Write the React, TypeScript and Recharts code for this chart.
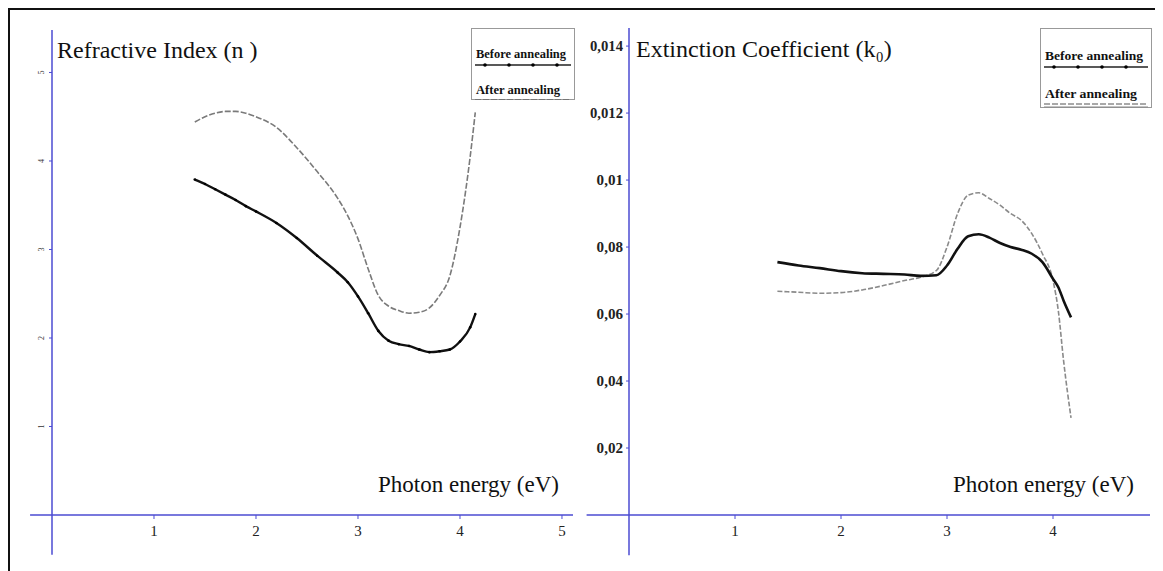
import { LineChart, Line, XAxis, YAxis, ReferenceLine } from 'recharts';

const serif = '"Liberation Serif", "Times New Roman", serif';
const axisBlue = '#4b4bd2';

// Refractive index n vs photon energy (eV)
const nEnergy = [1.4, 1.5, 1.6, 1.7, 1.8, 1.9, 2.0, 2.2, 2.4, 2.6, 2.8, 2.9, 3.0, 3.1, 3.2, 3.3, 3.4, 3.5, 3.6, 3.7, 3.8, 3.9, 4.0, 4.1, 4.15];
const nBefore = [3.79, 3.74, 3.68, 3.62, 3.56, 3.49, 3.43, 3.3, 3.13, 2.93, 2.74, 2.63, 2.47, 2.28, 2.08, 1.97, 1.93, 1.91, 1.87, 1.84, 1.85, 1.87, 1.96, 2.12, 2.27];
const nAfter = [4.44, 4.5, 4.54, 4.56, 4.56, 4.54, 4.5, 4.38, 4.15, 3.88, 3.58, 3.38, 3.12, 2.78, 2.48, 2.36, 2.31, 2.28, 2.29, 2.34, 2.48, 2.7, 3.25, 4.05, 4.55];

// Extinction coefficient k vs photon energy (eV)
const kEnergy = [1.4, 1.6, 1.8, 2.0, 2.2, 2.4, 2.6, 2.75, 2.9, 3.0, 3.1, 3.2, 3.3, 3.4, 3.5, 3.6, 3.7, 3.8, 3.9, 4.0, 4.05, 4.1, 4.17];
const kBefore = [0.00755, 0.00745, 0.00737, 0.00728, 0.00722, 0.0072, 0.00718, 0.00714, 0.00716, 0.00745, 0.00795, 0.00832, 0.00838, 0.00828, 0.00812, 0.008, 0.00792, 0.0078, 0.00755, 0.00705, 0.0068, 0.0064, 0.0059];
const kAfter = [0.00668, 0.00665, 0.00662, 0.00664, 0.00672, 0.00685, 0.007, 0.0071, 0.0073, 0.008, 0.009, 0.00955, 0.00962, 0.00945, 0.00925, 0.009, 0.0088, 0.0084, 0.0078, 0.007, 0.0061, 0.0046, 0.0029];

const nTicksX = [1, 2, 3, 4, 5];
const nTicksY = [1, 2, 3, 4, 5];
const kTicksX = [1, 2, 3, 4];
const kTicksY = [0.002, 0.004, 0.006, 0.008, 0.01, 0.012, 0.014];
const kTickLabels = ['0,02', '0,04', '0,06', '0,08', '0,01', '0,012', '0,014'];

const nData = nEnergy.map((e, i) => ({ e, before: nBefore[i], after: nAfter[i] }));
const kData = kEnergy.map((e, i) => ({ e, before: kBefore[i], after: kAfter[i] }));

const RotTick = (props: any) => {
  const { x, y, payload } = props;
  return (
    <text x={x} y={y} transform={`rotate(-90 ${x} ${y})`} textAnchor="middle" dominantBaseline="central"
      fontSize={8} fontFamily={serif} fill="#333">{payload.value}</text>
  );
};

const KTick = (props: any) => {
  const { x, y, payload } = props;
  const label = kTickLabels[kTicksY.indexOf(payload.value)] ?? '';
  return (
    <text x={x} y={y} dy={5} textAnchor="end" fontSize={15} fontWeight={700} fontFamily={serif} fill="#222"
      textLength={label.length * 6.6} lengthAdjust="spacingAndGlyphs">{label}</text>
  );
};

const axisLine = { stroke: axisBlue, strokeWidth: 1.5 };
const xTick = { fontSize: 15, fill: '#222', fontFamily: serif };

const LegendBox = ({ left, top, w, h, r1, r2 }: any) => (
  <svg style={{ position: 'absolute', left, top }} width={w} height={h}>
    <rect x={0.5} y={0.5} width={w - 1} height={h - 1} fill="#fff" stroke="#999" />
    <text x={5} y={r1} fontSize={13} fontWeight={700} fontFamily={serif} fill="#111" textLength={w - 14} lengthAdjust="spacingAndGlyphs">Before annealing</text>
    <line x1={4} x2={w - 4} y1={r1 + 7} y2={r1 + 7} stroke="#222" strokeWidth={1.5} />
    {[0, 1, 2, 3].map((i) => (
      <circle key={i} cx={14 + i * 24} cy={r1 + 7} r={1.8} fill="#000" />
    ))}
    <text x={5} y={r2} fontSize={13} fontWeight={700} fontFamily={serif} fill="#111" textLength={w - 20} lengthAdjust="spacingAndGlyphs">After annealing</text>
    <line x1={4} x2={w - 4} y1={r2 + 6} y2={r2 + 6} stroke="#555" strokeWidth={1.2} strokeDasharray="6 2" />
    <line x1={4} x2={w - 4} y1={r2 + 9} y2={r2 + 9} stroke="#888" strokeWidth={1} />
  </svg>
);

const label = (text: string, left: number, top: number) => (
  <div style={{ position: 'absolute', left, top, fontFamily: serif, fontSize: 24, lineHeight: '24px', color: '#111', whiteSpace: 'nowrap' }}>
    {text}
  </div>
);

export default function App() {
  return (
    <div style={{ position: 'relative', width: 1150, height: 561, borderTop: '2px solid #111', borderLeft: '2px solid #111', borderRight: '2px solid #111', background: '#fff' }}>
      <div style={{ position: 'absolute', left: 0, top: 0 }}>
        <LineChart width={600} height={560} data={nData} margin={{ top: 20, right: 37, left: 12, bottom: 25 }}>
          <XAxis dataKey="e" type="number" domain={[0, 5.108]} ticks={nTicksX} allowDataOverflow height={30}
            axisLine={axisLine} tickLine={{ stroke: axisBlue }} tickSize={4} tickMargin={6} tick={xTick} />
          <YAxis type="number" domain={[0, 5.48]} ticks={nTicksY} allowDataOverflow width={30}
            axisLine={axisLine} tickLine={{ stroke: axisBlue }} tickSize={3} tickMargin={7} tick={<RotTick />} />
          <ReferenceLine segment={[{ x: -0.215, y: 0 }, { x: 0, y: 0 }]} stroke={axisBlue} strokeWidth={1.5} ifOverflow="visible" />
          <ReferenceLine segment={[{ x: 0, y: -0.45 }, { x: 0, y: 0 }]} stroke={axisBlue} strokeWidth={1.5} ifOverflow="visible" />
          <Line type="monotone" dataKey="after" stroke="#7a7a7a" strokeWidth={1.6} strokeDasharray="6 2" dot={false} isAnimationActive={false} />
          <Line type="monotone" dataKey="before" stroke="#111" strokeWidth={2.4} dot={{ r: 1.3, fill: '#000', stroke: 'none' }} isAnimationActive={false} />
        </LineChart>
      </div>
      <div style={{ position: 'absolute', left: 570, top: 0 }}>
        <LineChart width={580} height={560} data={kData} margin={{ top: 18, right: 10, left: 9, bottom: 25 }}>
          <XAxis dataKey="e" type="number" domain={[0, 4.915]} ticks={kTicksX} allowDataOverflow height={30}
            axisLine={axisLine} tickLine={{ stroke: axisBlue }} tickSize={4} tickMargin={6} tick={xTick} />
          <YAxis type="number" domain={[0, 0.01454]} ticks={kTicksY} allowDataOverflow width={40}
            axisLine={axisLine} tickLine={{ stroke: axisBlue }} tickSize={3} tickMargin={3} tick={<KTick />} />
          <ReferenceLine segment={[{ x: -0.4, y: 0 }, { x: 0, y: 0 }]} stroke={axisBlue} strokeWidth={1.5} ifOverflow="visible" />
          <ReferenceLine segment={[{ x: 0, y: -0.0012 }, { x: 0, y: 0 }]} stroke={axisBlue} strokeWidth={1.5} ifOverflow="visible" />
          <Line type="monotone" dataKey="after" stroke="#8a8a8a" strokeWidth={1.6} strokeDasharray="5 2" dot={false} isAnimationActive={false} />
          <Line type="monotone" dataKey="before" stroke="#111" strokeWidth={2.6} dot={false} isAnimationActive={false} />
        </LineChart>
      </div>
      {label('Refractive Index (n )', 47, 28)}
      {label('Extinction  Coefficient (k₀)', 626, 27)}
      <div style={{ position: 'absolute', left: 368, top: 463, fontFamily: serif, fontSize: 23, lineHeight: '23px', color: '#111' }}>Photon energy (eV)</div>
      <div style={{ position: 'absolute', left: 943, top: 463, fontFamily: serif, fontSize: 23, lineHeight: '23px', color: '#111' }}>Photon energy (eV)</div>
      <LegendBox left={461} top={18} w={104} h={72} r1={30} r2={66} />
      <LegendBox left={1030} top={18} w={112} h={80} r1={32} r2={70} />
    </div>
  );
}
